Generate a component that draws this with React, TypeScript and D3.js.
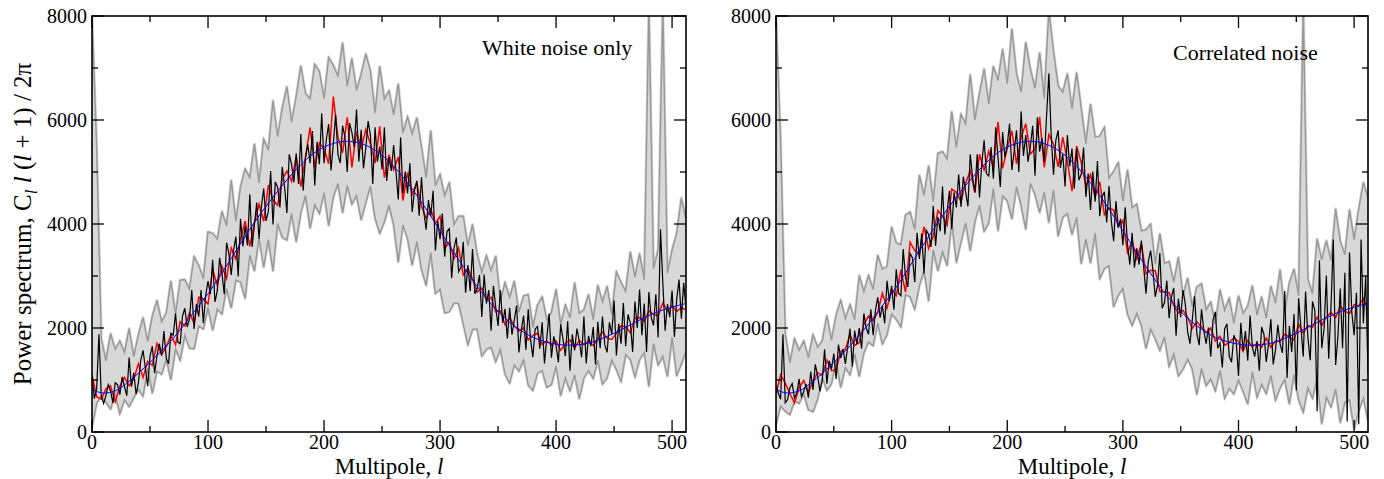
import React from "react";
import * as d3 from "d3";

const FONT = '"Liberation Serif", "Times New Roman", Times, serif';

const LMAX = 512;

// Theory curve (blue)
const blueL = [0, 10, 20, 30, 40, 50, 60, 70, 80, 90, 100, 110, 120, 130, 140, 150, 160, 170, 180, 190, 200, 210, 220, 230, 240, 250, 260, 270, 280, 290, 300, 310, 320, 330, 340, 350, 360, 370, 380, 390, 400, 410, 420, 430, 440, 450, 460, 470, 480, 490, 500, 510, 512];
const blueV = [820, 750, 790, 940, 1130, 1340, 1560, 1800, 2080, 2370, 2660, 2990, 3340, 3690, 4030, 4340, 4630, 4900, 5140, 5340, 5480, 5560, 5590, 5560, 5470, 5320, 5110, 4850, 4550, 4220, 3870, 3520, 3180, 2860, 2570, 2320, 2110, 1950, 1820, 1740, 1690, 1670, 1680, 1720, 1800, 1900, 2010, 2130, 2240, 2330, 2400, 2460, 2470];

// Left panel (white noise): black, every 2nd multipole l = 0..512
const leftBlack = [
  1100, 640, 830, 1880, 690, 550, 700, 910, 790, 560,
  950, 910, 720, 1060, 870, 700, 1430, 870, 1140, 730,
  950, 1380, 1570, 1230, 880, 1460, 1650, 1130, 1470, 1700,
  1470, 1940, 1420, 1310, 1900, 1860, 2280, 1730, 1700, 2230,
  2380, 2020, 2170, 2730, 1980, 2460, 2220, 2730, 2090, 2630,
  2900, 2650, 3310, 2500, 2720, 3350, 3060, 2650, 3640, 3430,
  3020, 3490, 3760, 2990, 4100, 3570, 3960, 3590, 4570, 3560,
  3990, 4410, 3710, 4340, 4680, 4060, 4240, 5020, 3990, 4810,
  4710, 4320, 5100, 4710, 4210, 5340, 5150, 4800, 5360, 4770,
  5730, 4640, 5270, 5530, 5170, 5790, 4740, 5580, 5150, 6130,
  5170, 5630, 5920, 5030, 5540, 6100, 5340, 5170, 5890, 5670,
  5000, 5940, 5760, 5480, 6200, 5200, 5810, 5070, 5460, 5980,
  5700, 4770, 5860, 5200, 5490, 5050, 5860, 4830, 5280, 5020,
  5520, 5010, 4470, 5670, 4590, 5010, 4590, 5170, 4230, 4650,
  4830, 4160, 4900, 4230, 3890, 4460, 4150, 4640, 3490, 4060,
  3710, 4200, 3370, 3860, 3910, 2960, 3530, 3740, 3080, 3170,
  3660, 2680, 3210, 2710, 3520, 2660, 2760, 3020, 2210, 3030,
  2470, 2730, 1950, 2810, 2400, 2040, 2730, 2100, 2370, 1800,
  2390, 1870, 2150, 2430, 1530, 1950, 2240, 1580, 2360, 1780,
  1440, 1980, 2030, 1600, 2110, 1320, 1800, 2280, 1430, 1840,
  1660, 1340, 2070, 1780, 1460, 2130, 1180, 1880, 1570, 1990,
  1750, 1440, 2220, 1320, 1850, 1650, 2020, 1300, 2120, 1610,
  2220, 1680, 1530, 2110, 1880, 2530, 1470, 2080, 1700, 2480,
  1650, 2260, 2100, 1540, 2510, 2000, 2740, 1860, 2470, 1540,
  2690, 2210, 2050, 2650, 1820, 3900, 2880, 1950, 2460, 2210,
  2720, 1830, 2560, 2930, 2180, 2870, 2380
];

// Left panel: red, every 4th multipole l = 0..512
const leftRed = [
  1100, 680, 630, 830, 890, 580, 880, 1050, 890, 1020,
  1310, 1050, 1360, 1280, 1700, 1490, 1640, 1860, 1680, 2120,
  2040, 2290, 2090, 2590, 2560, 2460, 3120, 2820, 3190, 2950,
  3540, 3330, 3700, 4060, 3570, 4030, 4380, 4050, 4750, 4460,
  4360, 4860, 5020, 4820, 5290, 4720, 5290, 5860, 5090, 5560,
  5450, 5160, 6450, 5670, 5370, 6050, 5090, 5780, 5440, 5820,
  5540, 5170, 5880, 4890, 5330, 5040, 5290, 4450, 4990, 4570,
  4790, 4340, 4110, 4290, 4010, 4150, 3530, 3650, 3330, 3540,
  3020, 3150, 2940, 2690, 2770, 2540, 2590, 2310, 2330, 2060,
  2200, 2040, 1940, 2000, 1770, 1860, 1900, 1680, 1750, 1670,
  1750, 1570, 1700, 1770, 1620, 1760, 1680, 1750, 1660, 1790,
  1920, 1800, 1780, 1900, 2040, 2020, 1910, 2190, 2200, 2130,
  2330, 2260, 2240, 2480, 2330, 2430, 2320, 2390, 2350
];

// Left panel: upper / lower grey curves, every 4th multipole
const leftGrayHi = [
  8000, 5500, 1790, 1370, 1890, 1590, 1750, 1530, 1990, 1450,
  1870, 2200, 1740, 2230, 2530, 2120, 2290, 2900, 2260, 2920,
  2930, 2750, 3370, 3200, 2950, 3850, 3820, 3710, 4240, 3960,
  4840, 4050, 4710, 5060, 4890, 5540, 4790, 5630, 5420, 6370,
  5680, 6230, 6640, 5960, 6450, 7040, 6510, 6410, 7070, 6930,
  6410, 7200, 7050, 6840, 7480, 6650, 7180, 6570, 6880, 7270,
  6940, 6130, 7030, 6400, 6560, 6100, 6690, 5750, 6060, 5730,
  6040, 5480, 4890, 5790, 4730, 4950, 4540, 4800, 3990, 4150,
  4150, 3580, 3990, 3420, 3070, 3390, 3100, 3380, 2520, 2870,
  2590, 2900, 2300, 2620, 2640, 2010, 2440, 2600, 2160, 2300,
  2740, 2060, 2440, 2190, 2870, 2280, 2350, 2640, 2160, 2820,
  2500, 2800, 2260, 3080, 2880, 2700, 3460, 2980, 3430, 2930,
  8200, 3140, 3510, 8200, 3050, 3500, 3820, 4500, 4090
];
const leftGrayLo = [
  100, 550, 700, 580, 440, 720, 350, 620, 490, 660,
  820, 690, 1230, 750, 1170, 1110, 1400, 1010, 1600, 1380,
  1860, 1610, 1600, 2040, 1980, 2390, 1960, 2360, 2270, 2760,
  2390, 2920, 2880, 2570, 3400, 3100, 3730, 3170, 3700, 3100,
  4010, 3740, 3690, 4200, 3660, 4210, 4550, 3920, 4370, 4200,
  4600, 3970, 4520, 4780, 4220, 4740, 4380, 4550, 4080, 4410,
  4730, 4110, 3820, 4040, 4360, 3980, 3270, 3980, 3720, 3210,
  3660, 3130, 2820, 3450, 2660, 2750, 2290, 2310, 2480, 2470,
  2080, 1680, 1970, 1980, 1460, 1590, 1630, 1350, 1590, 1110,
  940, 1290, 1170, 1390, 900, 800, 1130, 1180, 860, 910,
  1270, 700, 1040, 790, 1100, 640, 1040, 1180, 1030, 1380,
  920, 1040, 1380, 1200, 970, 1490, 1400, 1060, 1390, 1530,
  880, 1700, 1290, 1460, 1070, 1820, 1080, 1310, 1540
];

// Right panel (correlated noise): black, every 2nd multipole
const rightBlack = [
  900, 750, 630, 1880, 560, 620, 850, 930, 650, 750,
  1020, 680, 780, 920, 660, 1160, 810, 1300, 1080, 780,
  990, 1590, 930, 1370, 1210, 1510, 1020, 1680, 1420, 1600,
  1310, 1640, 1990, 1260, 1950, 1690, 2000, 1600, 2280, 2000,
  1880, 2360, 1860, 2340, 2590, 2200, 2430, 2090, 2910, 2520,
  2810, 2350, 3130, 2670, 2620, 3520, 2980, 2790, 3430, 3350,
  2880, 3830, 3330, 3820, 3050, 3880, 3800, 3560, 4350, 3580,
  4140, 3860, 4720, 3800, 4240, 4640, 3900, 4610, 4320, 4950,
  4330, 4910, 4620, 4340, 5340, 4900, 4610, 5340, 4510, 5170,
  5610, 4970, 4920, 5480, 4870, 5860, 5280, 4710, 5770, 5280,
  5520, 5930, 5040, 5400, 5800, 5000, 6170, 5310, 5710, 5200,
  5500, 5890, 4930, 6050, 5390, 5650, 5200, 6080, 6900, 5700,
  4950, 5610, 5800, 5080, 5350, 4720, 5710, 5110, 5450, 4680,
  5450, 4840, 4960, 5470, 4520, 4970, 4270, 5010, 4430, 5210,
  4150, 4520, 4620, 4030, 4730, 4060, 3670, 4440, 3930, 4100,
  3590, 4320, 3610, 3220, 3830, 3160, 3530, 3220, 3680, 3170,
  2660, 3280, 3490, 3110, 2600, 2820, 3440, 2380, 2490, 2910,
  2190, 2600, 2770, 1850, 2560, 2210, 2730, 2460, 1930, 1700,
  2150, 2610, 1890, 1670, 2360, 1950, 1700, 2010, 1450, 2150,
  2310, 1610, 1710, 1240, 1980, 2080, 1460, 1340, 1860, 1740,
  1080, 2100, 1570, 1940, 1370, 2240, 1630, 1450, 1750, 1180,
  2020, 1880, 1350, 1700, 2170, 1300, 1580, 2060, 1690, 1520,
  2710, 1040, 2040, 1540, 2270, 800, 2570, 2010, 1450, 2700,
  1820, 1380, 2510, 2340, 400, 3300, 1610, 1990, 3010, 1410,
  2420, 3700, 1290, 1840, 2760, 1610, 3060, 200, 3450, 2300,
  1860, 2680, 150, 3700, 2090, 3000, 1120
];

// Right panel: red, every 4th multipole
const rightRed = [
  730, 1100, 940, 740, 560, 850, 990, 760, 980, 1140,
  1090, 1380, 1180, 1190, 1550, 1590, 1870, 1660, 1720, 2070,
  2230, 2140, 2300, 2670, 2380, 2740, 2620, 3120, 2690, 3650,
  3490, 3430, 3950, 3530, 3770, 4260, 4150, 3980, 4670, 4610,
  4430, 4790, 5020, 4600, 5340, 5040, 5400, 5090, 5960, 5070,
  5450, 5790, 5160, 5670, 5930, 5350, 5440, 6060, 5090, 5720,
  5540, 5100, 5670, 5210, 4630, 5500, 5180, 4730, 4950, 4510,
  4810, 4180, 4310, 4270, 3950, 4070, 3450, 3670, 3330, 3620,
  3040, 3110, 3100, 2700, 2690, 2680, 2430, 2290, 2340, 2210,
  1990, 2120, 2020, 1910, 2000, 1750, 1840, 1670, 1720, 1810,
  1740, 1550, 1760, 1640, 1700, 1630, 1810, 1630, 1750, 1740,
  1880, 1830, 1770, 2070, 1900, 2050, 2010, 2210, 2050, 2210,
  2300, 2200, 2420, 2320, 2280, 2450, 2420, 2570, 2350
];

const rightGrayHi = [
  8000, 5600, 1890, 1330, 1790, 1570, 1750, 1430, 1870, 1630,
  1750, 2240, 1760, 2250, 2530, 2180, 2450, 2160, 3010, 2700,
  3010, 2740, 3400, 3130, 3180, 3940, 3640, 3600, 4170, 4230,
  3890, 4940, 4550, 5120, 4430, 5360, 5390, 5250, 6160, 5470,
  6110, 5920, 6870, 6000, 6510, 6980, 6310, 7030, 6760, 7360,
  6700, 7750, 6890, 6540, 7490, 6980, 6610, 7290, 6420, 8100,
  7320, 6660, 6530, 6890, 6220, 6910, 6220, 5540, 6300, 5670,
  5690, 5860, 4880, 5010, 5180, 4440, 5040, 4310, 4380, 3870,
  3890, 4000, 3230, 3810, 3240, 3280, 2880, 3360, 2620, 2960,
  2410, 2790, 2850, 2350, 2500, 2080, 2730, 2340, 2570, 2090,
  2620, 2280, 2420, 2810, 2250, 2600, 2190, 2800, 2480, 3120,
  2300, 2870, 3130, 2620, 8200, 2940, 2660, 3710, 3310, 3680,
  3290, 4290, 3670, 3410, 4270, 3700, 4290, 4800, 4500
];
const rightGrayLo = [
  150, 500, 400, 330, 600, 550, 730, 430, 390, 630,
  1050, 800, 930, 1370, 860, 1240, 1100, 1500, 1070, 1520,
  1730, 1660, 2090, 1690, 1870, 2270, 2170, 2020, 2640, 2600,
  2360, 2810, 3100, 2520, 3500, 3100, 3470, 3200, 4060, 3260,
  3650, 4020, 3490, 4040, 4360, 3860, 4020, 4680, 3870, 4540,
  4450, 4100, 4720, 4350, 3900, 4780, 4570, 4220, 4610, 4030,
  4660, 3770, 4130, 4200, 3800, 4130, 3240, 3710, 3250, 3820,
  2950, 3140, 3200, 2410, 2630, 2760, 2270, 2050, 2280, 2050,
  1610, 1980, 1790, 1570, 1830, 1260, 1500, 1080, 1210, 1400,
  1210, 720, 1220, 890, 1020, 790, 1190, 650, 840, 730,
  1000, 780, 540, 1160, 670, 920, 740, 1090, 610, 850,
  1010, 540, 1110, 620, 380, 850, 650, 1020, 160, 670,
  480, 830, 180, 570, 620, 60, 410, 650, 220
];

// Axis ticks
const xMajor = [0, 100, 200, 300, 400, 500];
const xMinor = [50, 150, 250, 350, 450];
const yMajor = [0, 2000, 4000, 6000, 8000];
const yMinor = [1000, 3000, 5000, 7000];

const TOP = 16;
const BOTTOM = 432;

type PanelProps = {
  id: string;
  x0: number;
  x1: number;
  black: number[];
  red: number[];
  hi: number[];
  lo: number[];
  label: string;
  labelX: number;
  labelY: number;
};

function Panel({ id, x0, x1, black, red, hi, lo, label, labelX, labelY }: PanelProps) {
  const x = d3.scaleLinear().domain([0, LMAX]).range([x0, x1]);
  const y = d3.scaleLinear().domain([0, 8000]).range([BOTTOM, TOP]);
  const l2 = d3.range(0, LMAX + 1, 2);
  const l4 = d3.range(0, LMAX + 1, 4);

  const band = d3
    .area<number>()
    .x((_, i) => x(l4[i]))
    .y0((_, i) => y(lo[i]))
    .y1((d) => y(d));
  const line4 = d3
    .line<number>()
    .x((_, i) => x(l4[i]))
    .y((d) => y(d));
  const line2 = d3
    .line<number>()
    .x((_, i) => x(l2[i]))
    .y((d) => y(d));
  const blueLine = d3
    .line<number>()
    .x((_, i) => x(blueL[i]))
    .y((d) => y(d))
    .curve(d3.curveMonotoneX);

  const ticks: React.ReactElement[] = [];
  xMajor.forEach((v) => {
    ticks.push(<line key={"xb" + v} x1={x(v)} x2={x(v)} y1={BOTTOM} y2={BOTTOM - 12} />);
    ticks.push(<line key={"xt" + v} x1={x(v)} x2={x(v)} y1={TOP} y2={TOP + 12} />);
  });
  xMinor.forEach((v) => {
    ticks.push(<line key={"xbm" + v} x1={x(v)} x2={x(v)} y1={BOTTOM} y2={BOTTOM - 6} />);
    ticks.push(<line key={"xtm" + v} x1={x(v)} x2={x(v)} y1={TOP} y2={TOP + 6} />);
  });
  yMajor.forEach((v) => {
    ticks.push(<line key={"yl" + v} x1={x0} x2={x0 + 12} y1={y(v)} y2={y(v)} />);
    ticks.push(<line key={"yr" + v} x1={x1} x2={x1 - 12} y1={y(v)} y2={y(v)} />);
  });
  yMinor.forEach((v) => {
    ticks.push(<line key={"ylm" + v} x1={x0} x2={x0 + 6} y1={y(v)} y2={y(v)} />);
    ticks.push(<line key={"yrm" + v} x1={x1} x2={x1 - 6} y1={y(v)} y2={y(v)} />);
  });

  const cx = (x0 + x1) / 2;

  return (
    <g>
      <defs>
        <clipPath id={id}>
          <rect x={x0} y={TOP} width={x1 - x0} height={BOTTOM - TOP} />
        </clipPath>
      </defs>
      <g clipPath={`url(#${id})`}>
        <path d={band(hi) || ""} fill="#d8d8d8" stroke="#d8d8d8" strokeWidth={3} strokeLinejoin="round" />
        <path d={line4(hi) || ""} fill="none" stroke="#999999" strokeWidth={1.5} />
        <path d={line4(lo) || ""} fill="none" stroke="#999999" strokeWidth={1.5} />
        <path d={line4(red) || ""} fill="none" stroke="#ff0000" strokeWidth={1.5} />
        <path d={line2(black) || ""} fill="none" stroke="#000000" strokeWidth={1.2} />
        <path d={blueLine(blueV) || ""} fill="none" stroke="#0000ff" strokeWidth={1} />
      </g>
      <g stroke="#000" strokeWidth={1.3}>{ticks}</g>
      <rect x={x0} y={TOP} width={x1 - x0} height={BOTTOM - TOP} fill="none" stroke="#000" strokeWidth={1.6} />
      <g fontFamily={FONT} fontSize={20} fill="#000">
        {yMajor.map((v) => (
          <text key={"yt" + v} x={x0 - 5} y={y(v) + 7} textAnchor="end">
            {String(v)}
          </text>
        ))}
        {xMajor.map((v) => (
          <text key={"xt" + v} x={x(v)} y={BOTTOM + 17} textAnchor="middle">
            {String(v)}
          </text>
        ))}
      </g>
      <text x={cx} y={BOTTOM + 42} textAnchor="middle" fontFamily={FONT} fontSize={23}>
        {"Multipole, "}
        <tspan fontStyle="italic">l</tspan>
      </text>
      <text x={labelX} y={labelY} fontFamily={FONT} fontSize={22}>
        {label}
      </text>
    </g>
  );
}

export default function App() {
  return (
    <svg
      width={1384}
      height={479}
      style={{ position: "absolute", left: 0, top: 0, background: "#fff" }}
    >
      <rect x={0} y={0} width={1384} height={479} fill="#fff" />
      <Panel
        id="clipL"
        x0={92}
        x1={686}
        black={leftBlack}
        red={leftRed}
        hi={leftGrayHi}
        lo={leftGrayLo}
        label="White noise only"
        labelX={482}
        labelY={55}
      />
      <Panel
        id="clipR"
        x0={776}
        x1={1368}
        black={rightBlack}
        red={rightRed}
        hi={rightGrayHi}
        lo={rightGrayLo}
        label="Correlated noise"
        labelX={1173}
        labelY={60}
      />
      <text
        transform="rotate(-90)"
        x={-224}
        y={31}
        textAnchor="middle"
        fontFamily={FONT}
        fontSize={25}
      >
        {"Power spectrum, C"}
        <tspan fontStyle="italic" fontSize={17} dy={6}>l</tspan>
        <tspan dy={-6}>{" "}</tspan>
        <tspan fontStyle="italic">l</tspan>
        {" ("}
        <tspan fontStyle="italic">l</tspan>
        {" + 1) / 2\u03c0"}
      </text>
    </svg>
  );
}
